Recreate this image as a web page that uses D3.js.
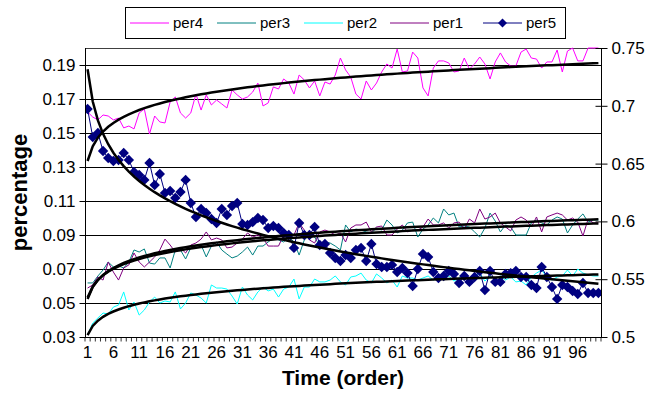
<!DOCTYPE html>
<html>
<head>
<meta charset="utf-8">
<script src="https://cdn.jsdelivr.net/npm/d3@7"></script>
<style>
  body { margin: 0; background: #fff; }
  svg { display: block; font-family: "Liberation Sans", Arial, sans-serif; }
</style>
</head>
<body>
<svg id="chart" width="650" height="393"></svg>
<script>
// time order 1..100
const categories = d3.range(1, 101);

const per4 = [0.1624,0.1594,0.1577,0.1606,0.1600,0.1577,0.1588,0.1530,0.1541,0.1524,
  0.1618,0.1641,0.1494,0.1600,0.1565,0.1559,0.1682,0.1712,0.1618,0.1588,
  0.1618,0.1729,0.1635,0.1724,0.1665,0.1694,0.1671,0.1647,0.1753,0.1724,
  0.1700,0.1712,0.1741,0.1794,0.1659,0.1677,0.1771,0.1759,0.1818,0.1794,
  0.1729,0.1841,0.1812,0.1765,0.1806,0.1718,0.1800,0.1788,0.1841,0.1941,
  0.1871,0.1829,0.1729,0.1700,0.1806,0.1753,0.1794,0.1859,0.1906,0.1882,
  0.1994,0.1859,0.1865,0.1976,0.1941,0.1765,0.1718,0.1882,0.1924,0.1924,
  0.1912,0.1859,0.1865,0.1941,0.1876,0.1906,0.1947,0.1906,0.1818,0.1918,
  0.1971,0.1918,0.1894,0.1894,0.1976,0.1994,0.1941,0.1935,0.1882,0.1918,
  0.1918,0.1988,0.1859,0.1982,0.2000,0.1924,0.1924,0.2000,0.2000,0.2000];

const per3 = [0.0618,0.0618,0.0659,0.0694,0.0741,0.0712,0.0718,0.0706,0.0741,0.0812,
  0.0800,0.0818,0.0735,0.0729,0.0765,0.0765,0.0706,0.0812,0.0812,0.0759,
  0.0824,0.0835,0.0841,0.0771,0.0835,0.0859,0.0812,0.0788,0.0765,0.0776,
  0.0800,0.0829,0.0782,0.0835,0.0835,0.0859,0.0882,0.0871,0.0859,0.0888,
  0.0859,0.0782,0.0871,0.0900,0.0888,0.0835,0.0859,0.0853,0.0835,0.0812,
  0.0959,0.0918,0.0935,0.0929,0.0918,0.0912,0.0941,0.0929,0.0988,0.0959,
  0.0912,0.0929,0.0971,0.0976,0.0888,0.0935,0.0959,0.1000,0.0971,0.1053,
  0.1018,0.1029,0.0947,0.0953,0.0947,0.0918,0.0888,0.0941,0.1029,0.0982,
  0.0918,0.0959,0.0947,0.0900,0.0900,0.0900,0.0971,0.0988,0.0971,0.0959,
  0.0988,0.1006,0.0994,0.0912,0.0959,0.0994,0.1024,0.0976,0.0988,0.0988];

const per2 = [0.0312,0.0382,0.0412,0.0441,0.0435,0.0476,0.0488,0.0565,0.0459,0.0506,
  0.0429,0.0459,0.0506,0.0535,0.0500,0.0512,0.0506,0.0565,0.0465,0.0500,
  0.0559,0.0547,0.0529,0.0500,0.0606,0.0588,0.0588,0.0582,0.0541,0.0494,
  0.0594,0.0547,0.0518,0.0565,0.0594,0.0571,0.0582,0.0535,0.0582,0.0594,
  0.0641,0.0524,0.0594,0.0594,0.0641,0.0624,0.0624,0.0635,0.0659,0.0624,
  0.0606,0.0653,0.0659,0.0676,0.0635,0.0618,0.0671,0.0647,0.0618,0.0635,
  0.0594,0.0659,0.0647,0.0647,0.0635,0.0647,0.0659,0.0635,0.0653,0.0641,
  0.0659,0.0629,0.0647,0.0665,0.0624,0.0653,0.0676,0.0629,0.0659,0.0641,
  0.0659,0.0635,0.0653,0.0624,0.0629,0.0606,0.0653,0.0676,0.0694,0.0653,
  0.0635,0.0653,0.0659,0.0694,0.0659,0.0700,0.0676,0.0665,0.0659,0.0659];

const per1 = [0.0588,0.0606,0.0653,0.0635,0.0741,0.0682,0.0635,0.0706,0.0724,0.0794,
  0.0741,0.0712,0.0741,0.0771,0.0812,0.0876,0.0841,0.0800,0.0824,0.0794,
  0.0841,0.0853,0.0876,0.0918,0.0871,0.0882,0.0871,0.0824,0.0829,0.0853,
  0.0876,0.0912,0.0888,0.0900,0.0882,0.0835,0.0835,0.0835,0.0900,0.0882,
  0.0900,0.0971,0.0929,0.0871,0.0853,0.0918,0.0929,0.0918,0.0900,0.0912,
  0.0859,0.0941,0.0959,0.0959,0.0976,0.0918,0.0947,0.0953,0.0900,0.0900,
  0.0935,0.0959,0.0918,0.0929,0.0929,0.0947,0.0994,0.0959,0.0959,0.0971,
  0.0941,0.0971,0.0976,0.0935,0.0994,0.0971,0.1053,0.0994,0.1006,0.1029,
  0.0971,0.0947,0.0924,0.0988,0.1006,0.0988,0.0947,0.1006,0.0918,0.1006,
  0.1018,0.1029,0.1018,0.0988,0.1000,0.0976,0.0894,0.0994,0.0971,0.0971];

const per5 = [0.1641,0.1476,0.1500,0.1394,0.1353,0.1335,0.1341,0.1382,0.1341,0.1271,
  0.1253,0.1224,0.1324,0.1194,0.1259,0.1147,0.1159,0.1118,0.1153,0.1224,
  0.1088,0.1006,0.1053,0.1029,0.0994,0.0971,0.1053,0.1018,0.1071,0.1088,
  0.0965,0.0959,0.0976,0.1000,0.0988,0.0941,0.0953,0.0941,0.0912,0.0900,
  0.0824,0.0971,0.0900,0.0900,0.0947,0.0841,0.0847,0.0794,0.0765,0.0747,
  0.0782,0.0765,0.0812,0.0824,0.0747,0.0847,0.0729,0.0712,0.0712,0.0724,
  0.0682,0.0706,0.0676,0.0600,0.0700,0.0788,0.0771,0.0682,0.0647,0.0659,
  0.0688,0.0671,0.0618,0.0659,0.0624,0.0653,0.0688,0.0576,0.0688,0.0624,
  0.0624,0.0671,0.0676,0.0688,0.0653,0.0653,0.0606,0.0588,0.0712,0.0653,
  0.0594,0.0524,0.0606,0.0594,0.0571,0.0553,0.0618,0.0559,0.0559,0.0559];

const leftTicks = [0.03, 0.05, 0.07, 0.09, 0.11, 0.13, 0.15, 0.17, 0.19];
const rightTicks = [0.5, 0.55, 0.6, 0.65, 0.7, 0.75];
const xTickLabels = [1, 6, 11, 16, 21, 26, 31, 36, 41, 46, 51, 56, 61, 66, 71, 76, 81, 86, 91, 96];

const series = [
  { name: 'per4', values: per4, color: '#FF00FF' },
  { name: 'per3', values: per3, color: '#008080' },
  { name: 'per2', values: per2, color: '#00FFFF' },
  { name: 'per1', values: per1, color: '#800080' },
  { name: 'per5', values: per5, color: '#000080', marker: true }
];

const width = 650, height = 393;
const margin = { top: 48, left: 85, right: 49, bottom: 56 };
const plotRight = width - margin.right;
const plotBottom = height - margin.bottom;

const svg = d3.select('#chart');

const x = d3.scaleBand()
  .domain(categories)
  .range([margin.left, plotRight]);
const xc = d => x(d) + x.bandwidth() / 2;

const y = d3.scaleLinear()
  .domain([0.03, 0.20])
  .range([plotBottom, margin.top]);

const y2 = d3.scaleLinear()
  .domain([0.5, 0.75])
  .range([plotBottom, margin.top]);

svg.append('defs').append('clipPath').attr('id', 'plot')
  .append('rect')
  .attr('x', margin.left).attr('y', margin.top - 1)
  .attr('width', plotRight - margin.left).attr('height', plotBottom - margin.top + 2);

// gridlines
svg.append('g')
  .selectAll('line')
  .data(leftTicks.slice(1))
  .enter().append('line')
  .attr('x1', margin.left).attr('x2', plotRight)
  .attr('y1', d => Math.round(y(d)) + 0.5).attr('y2', d => Math.round(y(d)) + 0.5)
  .attr('stroke', '#000').attr('stroke-width', 1);

svg.append('line')
  .attr('x1', margin.left).attr('x2', plotRight)
  .attr('y1', margin.top + 0.5).attr('y2', margin.top + 0.5)
  .attr('stroke', '#404040');

// log trendline (least squares on ln x), like the spreadsheet does
function logFit(vals) {
  const lx = categories.map(c => Math.log(c));
  const mx = d3.mean(lx), my = d3.mean(vals);
  let sxy = 0, sxx = 0;
  lx.forEach((v, i) => { sxy += (v - mx) * (vals[i] - my); sxx += (v - mx) * (v - mx); });
  const a = sxy / sxx;
  const b = my - a * mx;
  return categories.map(c => a * Math.log(c) + b);
}

const line = d3.line()
  .x((d, i) => xc(categories[i]))
  .y(d => y(d));

const gPlot = svg.append('g').attr('clip-path', 'url(#plot)');

series.forEach(s => {
  gPlot.append('path')
    .attr('d', line(s.values))
    .attr('fill', 'none')
    .attr('stroke', s.color)
    .attr('stroke-width', 1);
});

const diamond = r => `M0,${-r}L${r},0L0,${r}L${-r},0Z`;
gPlot.append('g')
  .selectAll('path')
  .data(per5)
  .enter().append('path')
  .attr('transform', (d, i) => `translate(${xc(categories[i])},${y(d)})`)
  .attr('d', diamond(5.2))
  .attr('fill', '#000080');

series.forEach(s => {
  gPlot.append('path')
    .attr('d', line(logFit(s.values)))
    .attr('fill', 'none')
    .attr('stroke', '#000')
    .attr('stroke-width', 2.5);
});

// left axis
const yAxis = svg.append('g')
  .attr('transform', `translate(${margin.left + 0.5},0)`)
  .call(d3.axisLeft(y).tickValues(leftTicks).tickFormat(d3.format('.2f')).tickSize(6).tickPadding(4));
yAxis.selectAll('.tick line').attr('x2', -6).attr('x1', 6);
yAxis.select('.domain').attr('d', `M0,${margin.top}V${plotBottom}`);

// right axis
const y2Axis = svg.append('g')
  .attr('transform', `translate(${plotRight + 0.5},0)`)
  .call(d3.axisRight(y2).tickValues(rightTicks).tickFormat(d => String(d)).tickSize(6).tickPadding(4));
y2Axis.selectAll('.tick line').attr('x1', -6).attr('x2', 6);
y2Axis.select('.domain').attr('d', `M0,${margin.top}V${plotBottom}`);

[yAxis, y2Axis].forEach(g => {
  g.selectAll('text').attr('font-size', 17).attr('fill', '#000')
    .attr('font-family', '"Liberation Sans", Arial, sans-serif');
  g.selectAll('line, path').attr('stroke', '#000');
});

// bottom axis
const xAxis = svg.append('g')
  .attr('transform', `translate(0,${plotBottom + 0.5})`)
  .call(d3.axisBottom(x).tickValues(xTickLabels).tickSize(0).tickPadding(8));
xAxis.select('.domain').attr('d', `M${margin.left},0H${plotRight}`).attr('stroke', '#000');
xAxis.selectAll('text').attr('font-size', 17).attr('fill', '#000')
  .attr('font-family', '"Liberation Sans", Arial, sans-serif');

xAxis.append('g')
  .selectAll('line')
  .data(categories.concat([null]))
  .enter().append('line')
  .attr('x1', d => d === null ? plotRight : x(d))
  .attr('x2', d => d === null ? plotRight : x(d))
  .attr('y1', 0).attr('y2', 4)
  .attr('stroke', '#000').attr('stroke-width', 0.8);

// titles
svg.append('text')
  .attr('x', (margin.left + plotRight) / 2)
  .attr('y', 385)
  .attr('text-anchor', 'middle')
  .attr('font-weight', 'bold')
  .attr('font-size', 21)
  .text('Time (order)');

svg.append('text')
  .attr('transform', `translate(27,${(margin.top + plotBottom) / 2}) rotate(-90)`)
  .attr('text-anchor', 'middle')
  .attr('font-weight', 'bold')
  .attr('font-size', 22)
  .text('percentage');

// legend
const legendX = [130, 217, 304, 390, 483];
const legend = svg.append('g');
legend.append('rect')
  .attr('x', 125.5).attr('y', 7.5).attr('width', 440).attr('height', 31)
  .attr('fill', '#fff').attr('stroke', '#000');

series.forEach((s, i) => {
  const g = legend.append('g').attr('transform', `translate(${legendX[i]},23)`);
  g.append('line').attr('x1', 0).attr('x2', 39).attr('y1', 0).attr('y2', 0)
    .attr('stroke', s.color).attr('stroke-width', 1);
  if (s.marker) {
    g.append('path').attr('transform', 'translate(19.5,0)').attr('d', diamond(4.5)).attr('fill', s.color);
  }
  g.append('text').attr('x', 43).attr('y', 0).attr('dy', '0.35em')
    .attr('font-size', 15).text(s.name);
});
</script>
</body>
</html>
